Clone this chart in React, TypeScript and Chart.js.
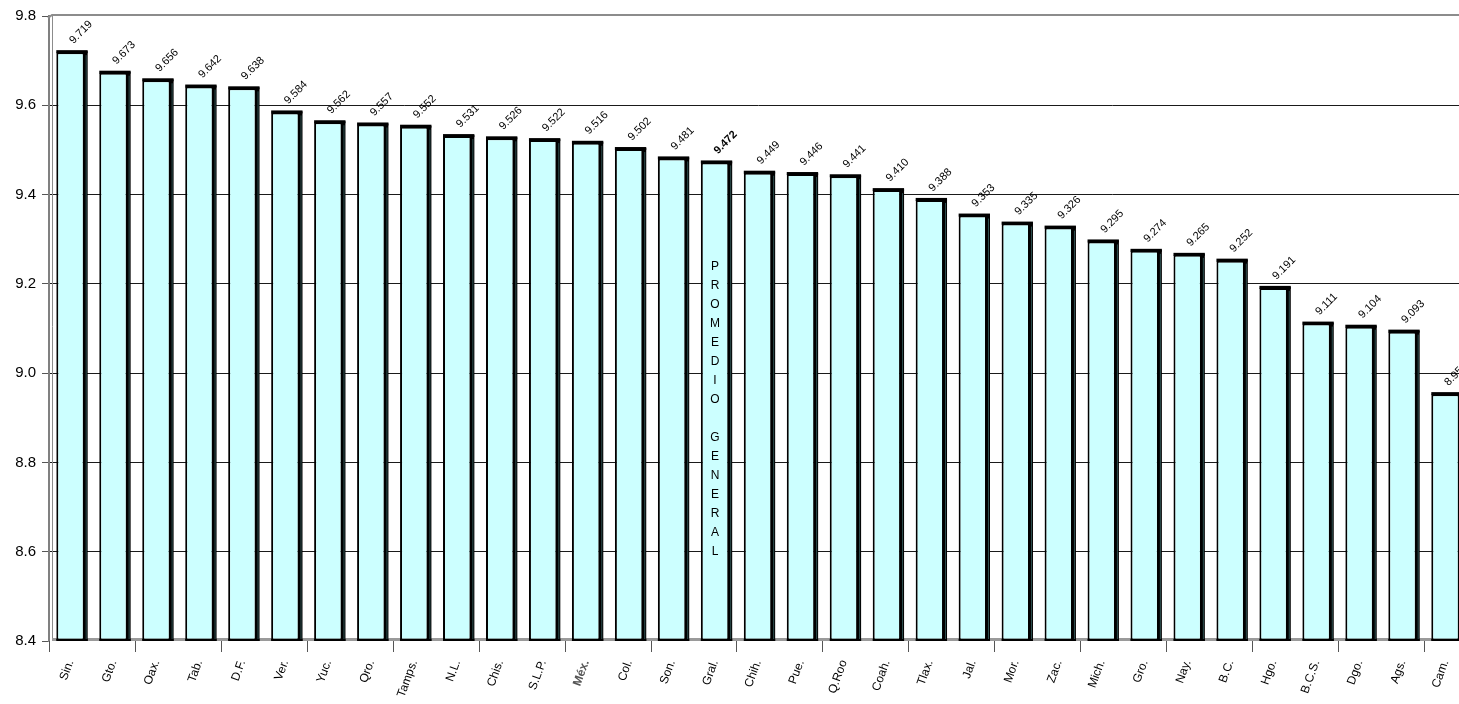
import React, { useEffect, useRef } from "react";
import { Chart, registerables } from "chart.js";

Chart.register(...registerables);

const categories = [
  "Sin.", "Gto.", "Oax.", "Tab.", "D.F.", "Ver.", "Yuc.", "Qro.", "Tamps.", "N.L.",
  "Chis.", "S.L.P.", "Méx.", "Col.", "Son.", "Gral.", "Chih.", "Pue.", "Q.Roo", "Coah.",
  "Tlax.", "Jal.", "Mor.", "Zac.", "Mich.", "Gro.", "Nay.", "B.C.", "Hgo.", "B.C.S.",
  "Dgo.", "Ags.", "Cam.",
];

const values = [
  9.719, 9.673, 9.656, 9.642, 9.638, 9.584, 9.562, 9.557, 9.552, 9.531,
  9.526, 9.522, 9.516, 9.502, 9.481, 9.472, 9.449, 9.446, 9.441, 9.41,
  9.388, 9.353, 9.335, 9.326, 9.295, 9.274, 9.265, 9.252, 9.191, 9.111,
  9.104, 9.093, 8.953,
];

const valueLabels = [
  "9.719", "9.673", "9.656", "9.642", "9.638", "9.584", "9.562", "9.557", "9.552", "9.531",
  "9.526", "9.522", "9.516", "9.502", "9.481", "9.472", "9.449", "9.446", "9.441", "9.410",
  "9.388", "9.353", "9.335", "9.326", "9.295", "9.274", "9.265", "9.252", "9.191", "9.111",
  "9.104", "9.093", "8.953",
];

const Y_MIN = 8.4;
const Y_MAX = 9.8;
const Y_STEP = 0.2;

const averageCategory = "Gral.";
const shadedLabel = "Méx.";
const averageText = ["P", "R", "O", "M", "E", "D", "I", "O", "", "G", "E", "N", "E", "R", "A", "L"];
const averageTextCenterValue = 8.92;

const FONT = "Arial, 'Liberation Sans', sans-serif";

const frame3d = {
  id: "frame3d",
  beforeDatasetsDraw(chart: any) {
    const { ctx, chartArea } = chart;
    const { left, top, right, bottom } = chartArea;
    ctx.save();
    // floor
    ctx.fillStyle = "#9a9a9a";
    ctx.fillRect(left + 3, bottom - 3, right - left, 3);
    // back wall left edge
    ctx.strokeStyle = "#8c8c8c";
    ctx.lineWidth = 1;
    ctx.beginPath();
    ctx.moveTo(left + 3.5, top - 1);
    ctx.lineTo(left + 3.5, bottom - 3);
    ctx.stroke();
    // top border
    ctx.lineWidth = 2;
    ctx.beginPath();
    ctx.moveTo(left - 1, top + 2);
    ctx.lineTo(left + 3, top - 1);
    ctx.lineTo(right + 5, top - 1);
    ctx.stroke();
    // x tick marks every two categories
    const n = categories.length;
    const w = (right - left) / n;
    ctx.strokeStyle = "#555";
    ctx.lineWidth = 1;
    for (let i = 0; i <= n; i += 2) {
      const x = Math.round(left + i * w) + 0.5;
      ctx.beginPath();
      ctx.moveTo(x, bottom);
      ctx.lineTo(x, bottom + 11);
      ctx.stroke();
    }
    ctx.restore();
  },
  afterDatasetsDraw(chart: any) {
    const { ctx, chartArea } = chart;
    const meta = chart.getDatasetMeta(0);
    const yScale = chart.scales.y;
    ctx.save();
    meta.data.forEach((bar: any, i: number) => {
      const { x, y, width } = bar.getProps(["x", "y", "width"], true);
      const base = chartArea.bottom;
      const xl = x - width / 2;
      const xr = x + width / 2;
      // 3D side face
      ctx.fillStyle = "#000";
      ctx.fillRect(xr - 1, y - 1, 4, base - y + 1);
      ctx.fillStyle = "#2e5050";
      ctx.fillRect(xr + 1, y + 3, 1, base - y - 5);
      // top face
      ctx.fillStyle = "#000";
      ctx.fillRect(xl, y - 2, width + 3, 3);
      // bottom edge
      ctx.fillRect(xl, base - 2, width + 3, 2);
      // value label
      ctx.save();
      ctx.translate(x + 3, y - 8);
      ctx.rotate(-Math.PI / 4);
      ctx.font = (categories[i] === averageCategory ? "bold " : "") + "11px " + FONT;
      ctx.fillStyle = "#000";
      ctx.textAlign = "left";
      ctx.textBaseline = "alphabetic";
      ctx.fillText(valueLabels[i], 0, 0);
      ctx.restore();
    });
    // vertical "PROMEDIO GENERAL" text
    const idx = categories.indexOf(averageCategory);
    const avgBar = meta.data[idx];
    if (avgBar) {
      const cx = avgBar.x;
      const cy = yScale.getPixelForValue(averageTextCenterValue);
      const spacing = 19;
      const start = cy - ((averageText.length - 1) / 2) * spacing;
      ctx.font = "12px " + FONT;
      ctx.fillStyle = "#000";
      ctx.textAlign = "center";
      ctx.textBaseline = "middle";
      averageText.forEach((ch, k) => {
        if (ch) ctx.fillText(ch, cx, start + k * spacing);
      });
    }
    ctx.restore();
  },
};

export default function App() {
  const canvasRef = useRef<HTMLCanvasElement | null>(null);

  useEffect(() => {
    const canvas = canvasRef.current;
    if (!canvas) return;
    const chart = new Chart(canvas, {
      type: "bar",
      data: {
        labels: categories,
        datasets: [
          {
            data: values,
            base: Y_MIN,
            backgroundColor: "#CCFFFF",
            borderColor: "#000",
            borderWidth: { top: 2, left: 2, right: 2, bottom: 2 },
            borderSkipped: false,
            barPercentage: 0.66,
            categoryPercentage: 1,
          },
        ],
      },
      options: {
        responsive: false,
        animation: false,
        devicePixelRatio: 1,
        layout: { padding: { top: 16, left: 0, right: 0, bottom: 0 } },
        plugins: {
          legend: { display: false },
          tooltip: { enabled: false },
        },
        scales: {
          x: {
            type: "category",
            offset: true,
            grid: { display: false },
            border: { display: false },
            ticks: {
              autoSkip: false,
              minRotation: 70,
              maxRotation: 70,
              padding: 9,
              font: (c: any) => ({
                family: FONT,
                size: 12,
                weight: categories[c.index] === shadedLabel ? "bold" : "normal",
              }),
              color: (c: any) => (categories[c.index] === shadedLabel ? "#555" : "#000"),
            },
            afterFit: (s: any) => {
              s.height = 63;
            },
          },
          y: {
            min: Y_MIN,
            max: Y_MAX,
            ticks: {
              stepSize: Y_STEP,
              callback: (v: any) => Number(v).toFixed(1),
              font: { family: FONT, size: 15 },
              color: "#000",
              padding: 6,
            },
            grid: {
              color: (c: any) => {
                const v = c.tick ? c.tick.value : 0;
                if (Math.abs(v - Y_MAX) < 1e-6 || Math.abs(v - Y_MIN) < 1e-6) return "rgba(0,0,0,0)";
                return "#1a1a1a";
              },
              lineWidth: 1,
              drawTicks: true,
              tickLength: 7,
              tickColor: "#555",
            },
            border: { display: true, color: "#808080", width: 2 },
            afterFit: (s: any) => {
              s.width = 49;
            },
          },
        },
      },
      plugins: [frame3d],
    });
    return () => chart.destroy();
  }, []);

  return (
    <div
      style={{
        position: "fixed",
        left: 0,
        top: 0,
        width: 1459,
        height: 704,
        overflow: "hidden",
        background: "#fff",
      }}
    >
      <canvas ref={canvasRef} width={1468} height={704} style={{ display: "block" }} />
    </div>
  );
}
